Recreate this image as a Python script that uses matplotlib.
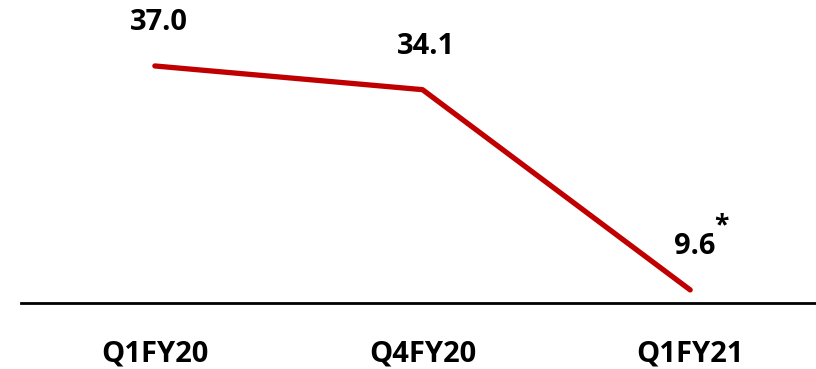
import matplotlib.pyplot as plt

# data
quarters = ["Q1FY20", "Q4FY20", "Q1FY21"]
values = [37.0, 34.1, 9.6]
value_labels = ["37.0", "34.1", "9.6"]

plt.rcParams["font.family"] = ["Open Sans", "DejaVu Sans"]

fig = plt.figure(figsize=(8.16, 3.69), dpi=100)
ax = fig.add_axes([21 / 816, 66 / 369, 795 / 816, 303 / 369])

x = list(range(len(quarters)))
ax.plot(x, values, color="#C00000", linewidth=3.8, solid_capstyle="round")

ax.set_xlim(-0.5, 2.47)
ax.set_ylim(8.0, 45.07)

for xi, v, lab in zip(x, values, value_labels):
    ax.annotate(lab, (xi, v), xytext=(4, 29), textcoords="offset pixels",
                ha="center", va="bottom", fontsize=21, fontweight="bold")

# footnote marker on the last value
ax.annotate("*", (x[-1], values[-1]), xytext=(31, 51), textcoords="offset pixels",
            ha="center", va="bottom", fontsize=19, fontweight="bold")

ax.set_xticks(x)
ax.set_xticklabels(quarters, fontsize=21, fontweight="bold")
ax.tick_params(axis="x", length=0, pad=26)
ax.set_yticks([])

for side in ["top", "right", "left"]:
    ax.spines[side].set_visible(False)
ax.spines["bottom"].set_linewidth(2)
ax.patch.set_alpha(0)

fig.savefig("out.png", dpi=100)
